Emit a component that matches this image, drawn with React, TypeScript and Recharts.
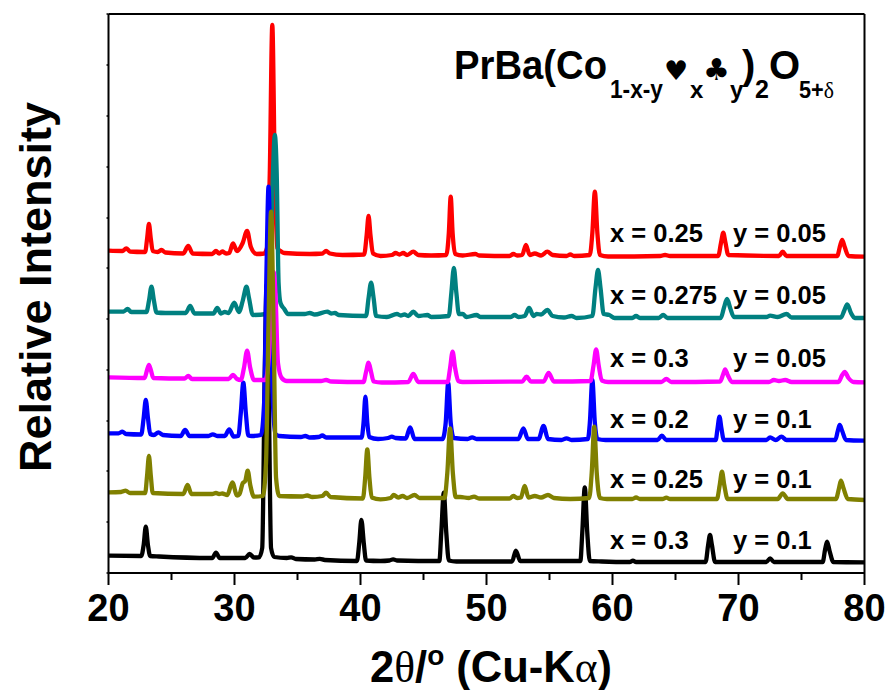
import { LineChart, Line, XAxis, YAxis } from 'recharts';

const FONT = '"Liberation Sans", Arial, sans-serif';
const SERIF = '"Liberation Serif", serif';

const bottomTicks = [20, 25, 30, 35, 40, 45, 50, 55, 60, 65, 70, 75, 80];
const topTicks = [0, 1, 2, 3, 4, 5, 6, 7, 8, 9, 10];
const leftTicks = [0, 51, 102, 152, 203, 254, 305, 355, 406, 457, 508, 559];

// [2 theta, intensity]
const redTrace = [
  [20, 322.3], [21.1, 322], [21.41, 324.7], [21.71, 321.5], [22.81, 321], [22.91, 321], [23.07, 335], [23.21, 349], [23.35, 335], [23.51, 322],
  [23.91, 321], [24.21, 323], [24.51, 320.5], [25.93, 319.5], [26.33, 327], [26.68, 319.5], [28.23, 319], [28.53, 322], [28.78, 319.5], [29.03, 321.5],
  [29.33, 319.5], [29.58, 320], [29.88, 329.5], [30.2, 322], [30.65, 330], [31, 342], [31.3, 326], [31.75, 319], [32.35, 319.5], [32.6, 326],
  [32.8, 400], [33, 548], [33.2, 400], [33.4, 325], [33.65, 322], [33.95, 320], [35.97, 319], [36.97, 319.5], [37.27, 322], [37.57, 319.5],
  [38.57, 318], [40.29, 318.5], [40.49, 338], [40.64, 357], [40.79, 338], [40.99, 319.5], [41.59, 317], [42.49, 318], [42.79, 320], [43.09, 318.5],
  [43.39, 320], [43.69, 318], [44.19, 321.3], [44.59, 318], [45.61, 317.5], [46.81, 318], [47.01, 340], [47.16, 376.3], [47.31, 340], [47.51, 319],
  [48.11, 317.5], [49.11, 319], [49.41, 317.5], [51.83, 317], [52.13, 319], [52.43, 317.5], [52.83, 318], [53.13, 328], [53.43, 318], [53.83, 319.5],
  [54.33, 317.5], [54.83, 321.3], [55.25, 318], [56.35, 317], [56.65, 318.5], [56.95, 317], [58.2, 318], [58.4, 340], [58.6, 381.3], [58.8, 340],
  [59, 318], [59.65, 316.5], [63.77, 317], [64.17, 318], [64.57, 317], [68.39, 317], [68.61, 330], [68.79, 340.3], [68.97, 330], [69.19, 318],
  [73.21, 317], [73.51, 321.3], [73.81, 317], [77.83, 317], [78.08, 328], [78.23, 333], [78.43, 326], [78.73, 317], [80, 316.3],
];

const tealTrace = [
  [20, 261.3], [21.2, 261.5], [21.51, 264], [21.81, 261], [23.01, 261], [23.21, 272], [23.41, 286.3], [23.61, 272], [23.81, 260.5], [24.51, 260],
  [26.13, 260], [26.48, 267], [26.83, 259.5], [28.33, 259.5], [28.63, 265], [28.93, 259.5], [29.23, 261], [29.53, 260], [29.98, 270.3], [30.35, 261],
  [30.65, 272], [30.95, 286.3], [31.15, 275], [31.45, 258], [32.55, 259], [32.85, 300], [33.05, 400], [33.2, 438], [33.35, 400], [33.5, 290],
  [33.65, 270], [33.95, 264], [34.25, 259], [34.65, 259], [35.57, 259], [35.97, 260], [36.37, 258.5], [37.37, 261.3], [37.67, 259.5], [37.97, 260],
  [38.27, 258], [40.44, 257], [40.64, 275], [40.84, 290.3], [41.04, 275], [41.24, 257], [42.09, 256], [42.89, 259], [43.19, 257.5], [43.49, 258.5],
  [43.79, 257], [44.19, 261.3], [44.59, 257], [45.31, 258], [45.61, 256], [47.01, 257], [47.21, 280], [47.41, 305], [47.61, 280], [47.81, 259],
  [48.11, 259], [48.41, 256], [49.21, 258], [49.51, 256], [51.93, 256], [52.23, 258], [52.53, 256], [53.03, 257], [53.38, 265], [53.73, 257],
  [53.98, 259], [54.33, 258.5], [54.83, 263], [55.25, 257], [56.15, 255.5], [56.75, 257], [57.15, 255], [58.4, 257], [58.65, 285], [58.85, 303],
  [59.05, 285], [59.3, 259], [59.75, 258], [60.17, 255], [61.57, 255], [61.87, 257], [62.17, 255], [63.67, 255], [64.02, 258], [64.37, 255],
  [68.59, 255], [68.84, 265], [69.09, 274], [69.34, 265], [69.64, 256], [72.21, 256], [72.51, 257.3], [73.11, 256], [73.81, 259], [74.21, 255.5],
  [78.13, 255.5], [78.38, 262], [78.63, 268.7], [78.93, 260], [79.23, 255], [80, 255],
];

const blackTrace = [
  [20, 17.3], [22.6, 17], [22.79, 28], [22.96, 46.3], [23.13, 28], [23.31, 17], [24.01, 16.5], [28.23, 15], [28.53, 20.3], [28.83, 15],
  [30.85, 15], [31.2, 19], [31.55, 15.5], [31.95, 15.7], [32.2, 25], [32.4, 200], [32.55, 288], [32.7, 200], [32.9, 25], [33.15, 16],
  [34.15, 15], [34.5, 15.7], [34.87, 14], [36.37, 13.5], [36.77, 14.2], [37.17, 13], [39.72, 12], [39.9, 30], [40.07, 53], [40.26, 30],
  [40.44, 12.5], [41.59, 12], [42.29, 12.5], [42.59, 13.7], [42.89, 12.5], [46.26, 12], [46.41, 40], [46.61, 80.3], [46.81, 40], [47.01, 12.5],
  [47.61, 11.5], [52.03, 11.5], [52.33, 22.3], [52.68, 12], [57.45, 12], [57.6, 40], [57.8, 85.7], [58, 40], [58.2, 12], [59.15, 11.5],
  [61.37, 11], [61.62, 12.3], [61.87, 11], [67.39, 11], [67.59, 28], [67.74, 38], [67.89, 28], [68.14, 11], [72.21, 11], [72.51, 14.7],
  [72.81, 11], [76.68, 11], [76.88, 24], [77.03, 31.3], [77.23, 22], [77.53, 11], [80, 10.7],
];

const blueTrace = [
  [20, 139.7], [20.8, 139.7], [21.1, 141.3], [21.4, 139], [22.6, 138.5], [22.79, 155], [22.96, 173], [23.13, 155], [23.31, 139], [23.61, 138],
  [23.96, 140.7], [24.31, 138], [25.73, 137], [26.08, 143], [26.43, 137], [27.93, 137], [28.28, 138.7], [28.63, 137], [29.23, 137], [29.58, 143.7],
  [29.93, 136.5], [30.3, 137], [30.5, 160], [30.7, 190.3], [30.9, 160], [31.1, 137.5], [31.35, 137], [32.1, 138], [32.35, 170], [32.55, 310],
  [32.7, 386.3], [32.85, 310], [33.05, 170], [33.25, 139], [33.55, 137], [35.27, 136], [35.62, 137], [35.97, 135.5], [36.67, 136], [36.97, 137.5],
  [37.27, 135.5], [40.09, 135.5], [40.24, 150], [40.39, 176.3], [40.54, 150], [40.69, 136], [41.39, 134], [42.19, 135], [42.49, 136.3], [42.79, 135],
  [43.59, 134.5], [43.94, 145.7], [44.29, 134], [46.51, 134], [46.76, 150], [46.96, 190], [47.16, 150], [47.41, 135], [48.51, 134], [48.86, 135.7],
  [49.21, 134], [52.53, 134], [52.93, 144.7], [53.28, 134], [54.13, 134], [54.53, 147], [54.88, 134], [55.95, 133], [56.35, 134.7], [56.75, 133],
  [58.05, 134], [58.2, 150], [58.4, 193], [58.6, 150], [58.8, 134], [59.45, 133], [63.57, 133], [63.92, 137.3], [64.27, 133], [68.19, 133],
  [68.34, 145], [68.49, 156.3], [68.64, 145], [68.84, 133], [72.21, 133], [72.51, 135.7], [72.96, 133], [73.41, 136.3], [73.81, 133], [77.68, 133],
  [77.88, 142], [78.03, 148], [78.23, 142], [78.53, 133], [80, 132.3],
];

const magentaTrace = [
  [20, 195.7], [22.86, 195], [23.06, 203], [23.21, 208], [23.36, 203], [23.56, 195], [26.03, 194.5], [26.33, 197], [26.63, 194], [29.53, 194],
  [29.88, 198], [30.2, 194], [30.5, 193], [30.75, 205], [31, 222.3], [31.25, 205], [31.55, 193], [32.45, 193], [32.75, 220], [32.95, 280],
  [33.1, 301], [33.25, 280], [33.45, 210], [33.75, 195], [34.15, 192], [36.87, 192], [37.27, 193], [37.67, 191.5], [40.24, 191], [40.44, 201],
  [40.64, 210.3], [40.84, 201], [41.04, 191.5], [41.69, 190.5], [43.79, 191], [44.19, 199], [44.59, 191], [46.91, 191], [47.11, 205], [47.31, 221.3],
  [47.51, 205], [47.76, 192], [48.11, 191], [52.83, 191.5], [53.18, 196.3], [53.53, 191.5], [54.53, 191.5], [54.93, 200], [55.35, 191.5], [58.25, 192],
  [58.5, 208], [58.7, 223.7], [58.9, 208], [59.15, 192.5], [59.65, 191], [63.87, 191], [64.27, 194], [64.67, 191], [68.54, 191.5], [68.79, 199],
  [68.94, 203.7], [69.14, 198], [69.49, 191], [72.41, 191], [72.81, 193], [73.21, 192], [73.71, 193], [74.21, 191], [77.93, 191], [78.23, 198],
  [78.43, 201], [78.73, 195], [79.13, 191], [80, 190.7],
];

const oliveTrace = [
  [20, 80.7], [21, 81], [21.36, 82.3], [21.71, 80], [22.91, 80], [23.06, 97], [23.21, 117], [23.36, 97], [23.51, 80], [25.93, 79],
  [26.28, 88], [26.58, 79], [28.23, 79], [28.53, 80], [28.78, 79], [29.03, 79.5], [29.43, 78], [29.83, 90.7], [30.2, 77.5], [30.4, 79],
  [30.65, 89.7], [30.85, 92], [31.05, 102.3], [31.25, 88], [31.55, 76.3], [32.25, 77], [32.5, 110], [32.7, 250], [32.9, 361.3], [33.1, 250],
  [33.3, 95], [33.55, 77], [35.37, 76.5], [35.77, 77.5], [36.17, 76], [36.97, 77], [37.27, 80.3], [37.62, 76], [40.19, 74.5], [40.37, 95],
  [40.54, 123.7], [40.71, 95], [40.89, 75.5], [41.59, 73.7], [42.39, 75], [42.64, 78], [42.99, 75.5], [43.34, 77], [43.69, 75], [44.29, 78],
  [44.69, 75], [46.66, 75], [46.89, 100], [47.11, 144.7], [47.33, 100], [47.56, 76], [47.91, 76], [48.61, 75], [49.01, 76.3], [49.41, 74.5],
  [51.83, 74.5], [52.13, 77], [52.43, 75], [52.73, 75.5], [53.03, 87], [53.33, 75.5], [53.83, 77], [54.33, 75.5], [54.88, 78], [55.35, 75],
  [56.65, 74], [58.15, 75], [58.35, 100], [58.55, 146.3], [58.75, 100], [59, 75], [59.55, 74], [61.57, 74], [61.87, 75.5], [62.17, 74],
  [63.97, 74], [64.27, 75.3], [64.57, 74], [68.29, 74], [68.51, 88], [68.69, 101.3], [68.87, 88], [69.14, 74], [73.11, 74], [73.51, 79.7],
  [73.91, 74], [77.73, 74], [77.98, 85], [78.13, 92.3], [78.33, 85], [78.68, 74], [80, 73],
];

// bottom series first so the later ones paint over them
const seriesList = [
  { name: 'x=0.25 y=0.05', color: '#ff0000', trace: redTrace },
  { name: 'x=0.275 y=0.05', color: '#008080', trace: tealTrace },
  { name: 'x=0.3 y=0.1', color: '#000000', trace: blackTrace },
  { name: 'x=0.2 y=0.1', color: '#0000ff', trace: blueTrace },
  { name: 'x=0.3 y=0.05', color: '#ff00ff', trace: magentaTrace },
  { name: 'x=0.25 y=0.1', color: '#808000', trace: oliveTrace },
];

const xLabels = ['x = 0.25', 'x = 0.275', 'x = 0.3', 'x = 0.2', 'x = 0.25', 'x = 0.3'];
const yLabels = ['y = 0.05', 'y = 0.05', 'y = 0.05', 'y = 0.1', 'y = 0.1', 'y = 0.1'];
const labelBaselines = [242, 304, 367, 428, 488, 549];

function BottomTick({ x, y, payload }: any) {
  const major = payload.value % 10 === 0;
  return (
    <g>
      <line x1={x} x2={x} y1={y} y2={y + (major ? 12 : 7)} stroke="#000" strokeWidth={2} />
      {major && (
        <text x={x} y={621} textAnchor="middle" fontFamily={FONT} fontWeight="bold" fontSize={38} fill="#000">
          {payload.value}
        </text>
      )}
    </g>
  );
}

function TopTick({ x, y }: any) {
  return <line x1={x} x2={x} y1={y} y2={y + 3} stroke="#000" strokeWidth={1.5} />;
}

const boldText = { fontFamily: FONT, fontWeight: 'bold', fill: '#000' } as const;

export default function App() {
  return (
    <div style={{ position: 'absolute', left: 0, top: 0, width: 888, height: 690, background: '#fff' }}>
      <LineChart width={888} height={690} margin={{ top: 0, right: 0, bottom: 57, left: 88.5 }}>
        <XAxis
          xAxisId="bottom"
          type="number"
          dataKey="x"
          domain={[20, 80]}
          ticks={bottomTicks}
          interval={0}
          height={60}
          tickSize={0}
          tickMargin={0}
          tickLine={false}
          tick={BottomTick}
          axisLine={{ stroke: '#000', strokeWidth: 2 }}
          allowDataOverflow
        />
        <XAxis
          xAxisId="top"
          orientation="top"
          type="number"
          domain={[0, 10]}
          ticks={topTicks}
          interval={0}
          height={14}
          tickSize={0}
          tickMargin={0}
          tickLine={false}
          tick={TopTick}
          axisLine={{ stroke: '#000', strokeWidth: 2 }}
        />
        <YAxis
          yAxisId="left"
          type="number"
          domain={[0, 559]}
          ticks={leftTicks}
          interval={0}
          width={20}
          tickSize={2}
          tickFormatter={() => ''}
          tickLine={{ stroke: '#000', strokeWidth: 1.5 }}
          axisLine={{ stroke: '#000', strokeWidth: 2 }}
        />
        <YAxis
          yAxisId="right"
          orientation="right"
          type="number"
          domain={[0, 559]}
          width={23.5}
          tick={false}
          tickLine={false}
          axisLine={{ stroke: '#000', strokeWidth: 2 }}
        />
        {seriesList.map((s) => (
          <Line
            key={s.name}
            xAxisId="bottom"
            yAxisId="left"
            name={s.name}
            data={s.trace.map(([x, y]) => ({ x, y }))}
            dataKey="y"
            type="monotone"
            stroke={s.color}
            strokeWidth={4.3}
            dot={false}
            isAnimationActive={false}
          />
        ))}

        <text x={51} y={472} transform="rotate(-90 51 472)" {...boldText} fontSize={45}>Relative Intensity</text>

        <text x={370} y={682} {...boldText} fontSize={43.5}>
          2<tspan fontFamily={SERIF} fontWeight="normal">θ</tspan>/<tspan dy={-17} fontSize={28}>o</tspan>
          <tspan dy={17}> (Cu-K</tspan><tspan fontFamily={SERIF} fontWeight="normal">α</tspan>)
        </text>

        <text x={454} y={79} {...boldText} fontSize={40} textLength={153} lengthAdjust="spacingAndGlyphs">PrBa(Co</text>
        <text x={610} y={98} {...boldText} fontSize={25} textLength={53} lengthAdjust="spacingAndGlyphs">1-x-y</text>
        <text x={664} y={80} fontFamily='"DejaVu Sans"' fontSize={27} fill="#000">♥</text>
        <text x={690} y={98} {...boldText} fontSize={24}>x</text>
        <text x={703} y={80} fontFamily='"DejaVu Sans"' fontSize={30} fill="#000">♣</text>
        <text x={730} y={98} {...boldText} fontSize={24}>y</text>
        <text x={742} y={79} {...boldText} fontSize={40}>)</text>
        <text x={755} y={98} {...boldText} fontSize={25}>2</text>
        <text x={769} y={79} {...boldText} fontSize={40}>O</text>
        <text x={799} y={98} {...boldText} fontSize={24} textLength={35} lengthAdjust="spacingAndGlyphs">5+<tspan fontFamily={SERIF} fontWeight="normal">δ</tspan></text>

        {labelBaselines.map((b, i) => (
          <g key={b}>
            <text x={610} y={b} {...boldText} fontSize={25.5}>{xLabels[i]}</text>
            <text x={733} y={b} {...boldText} fontSize={25.5}>{yLabels[i]}</text>
          </g>
        ))}
      </LineChart>
    </div>
  );
}
